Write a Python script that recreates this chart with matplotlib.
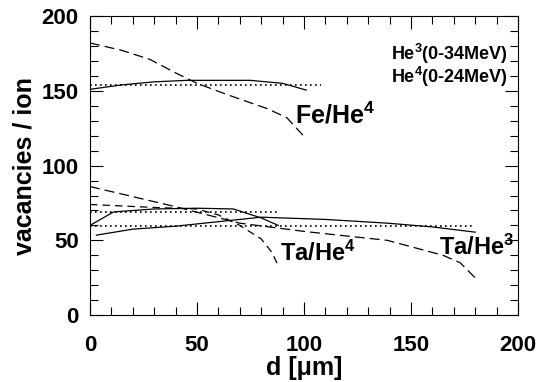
import matplotlib
matplotlib.use("Agg")
import matplotlib.pyplot as plt
from matplotlib.ticker import MultipleLocator

plt.rcParams["font.family"] = ["Liberation Sans", "DejaVu Sans"]
plt.rcParams["font.weight"] = "bold"
plt.rcParams["mathtext.fontset"] = "custom"
plt.rcParams["mathtext.bf"] = "Liberation Sans:bold"
plt.rcParams["mathtext.rm"] = "Liberation Sans:bold"
plt.rcParams["mathtext.default"] = "bf"

# Fe / He4
fe_dash_x = [0, 15, 28, 40, 50, 65, 83, 92, 101]
fe_dash_y = [182, 177, 171, 162, 155, 147, 138, 132, 118]
fe_solid_x = [0, 15, 30, 45, 60, 75, 90, 101]
fe_solid_y = [151, 154, 156, 157, 157, 157, 155, 150.5]
fe_dot_x = [0, 108]
fe_dot_y = [154, 154]

# Ta / He4
ta4_dash_x = [0, 30, 50, 60, 70, 80, 85, 88]
ta4_dash_y = [74, 72, 71, 67, 60, 51, 42, 33]
ta4_solid_x = [0, 11, 30, 50, 67, 80, 88]
ta4_solid_y = [60, 69, 71, 71.5, 71, 65, 60]
ta4_dot_x = [0, 89]
ta4_dot_y = [69, 69]

# Ta / He3
ta3_dash_x = [0, 40, 70, 100, 139, 165, 173, 181]
ta3_dash_y = [86, 72.5, 61.5, 56, 50, 40, 35, 23.5]
ta3_solid_x = [3, 20, 40, 60, 80, 110, 139, 160, 180]
ta3_solid_y = [53.5, 57.5, 59.5, 62.5, 65.5, 64, 61.5, 59, 55.5]
ta3_dot_x = [0, 179]
ta3_dot_y = [59.5, 59.5]

fig = plt.figure(figsize=(5.47, 3.82), dpi=100)
ax = fig.add_axes([0.1645, 0.175, 0.7825, 0.783])

lw = 0.9
ax.plot(fe_dash_x, fe_dash_y, color="black", lw=lw, dashes=(8, 4))
ax.plot(fe_solid_x, fe_solid_y, color="black", lw=lw)
ax.plot(fe_dot_x, fe_dot_y, color="black", lw=1.2, dashes=(1, 2))

ax.plot(ta4_dash_x, ta4_dash_y, color="black", lw=lw, dashes=(6, 4))
ax.plot(ta4_solid_x, ta4_solid_y, color="black", lw=lw)
ax.plot(ta4_dot_x, ta4_dot_y, color="black", lw=1.2, dashes=(1, 2))

ax.plot(ta3_dash_x, ta3_dash_y, color="black", lw=lw, dashes=(8, 4))
ax.plot(ta3_solid_x, ta3_solid_y, color="black", lw=lw)
ax.plot(ta3_dot_x, ta3_dot_y, color="black", lw=1.2, dashes=(1, 2))

ax.set_xlim(0, 200)
ax.set_ylim(0, 200)
ax.xaxis.set_major_locator(MultipleLocator(50))
ax.xaxis.set_minor_locator(MultipleLocator(10))
ax.yaxis.set_major_locator(MultipleLocator(50))
ax.yaxis.set_minor_locator(MultipleLocator(10))
ax.tick_params(which="both", direction="in", top=True, right=True,
               labelsize=16, width=0.8)
ax.tick_params(which="major", length=9.5)
ax.tick_params(axis="x", which="major", pad=14)
ax.tick_params(axis="y", which="major", pad=8)
ax.tick_params(which="minor", length=5.5)
for lab in ax.get_xticklabels() + ax.get_yticklabels():
    lab.set_fontweight("bold")
for s in ax.spines.values():
    s.set_linewidth(0.8)

ax.set_xlabel("d [μm]", fontsize=18, fontweight="bold", labelpad=0)
ax.set_ylabel("vacancies / ion", fontsize=18, fontweight="bold", labelpad=4)

ax.text(195.3, 170.6, "He$^{3}$(0-34MeV)", ha="right", va="baseline",
        fontsize=13, fontweight="bold")
ax.text(195.3, 155, "He$^{4}$(0-24MeV)", ha="right", va="baseline",
        fontsize=13, fontweight="bold")
ax.text(96, 128.4, "Fe/He$^{4}$", ha="left", va="baseline",
        fontsize=18, fontweight="bold")
ax.text(89, 36, "Ta/He$^{4}$", ha="left", va="baseline",
        fontsize=17, fontweight="bold")
ax.text(163, 40, "Ta/He$^{3}$", ha="left", va="baseline",
        fontsize=17, fontweight="bold")

fig.savefig("out.png", dpi=100)
